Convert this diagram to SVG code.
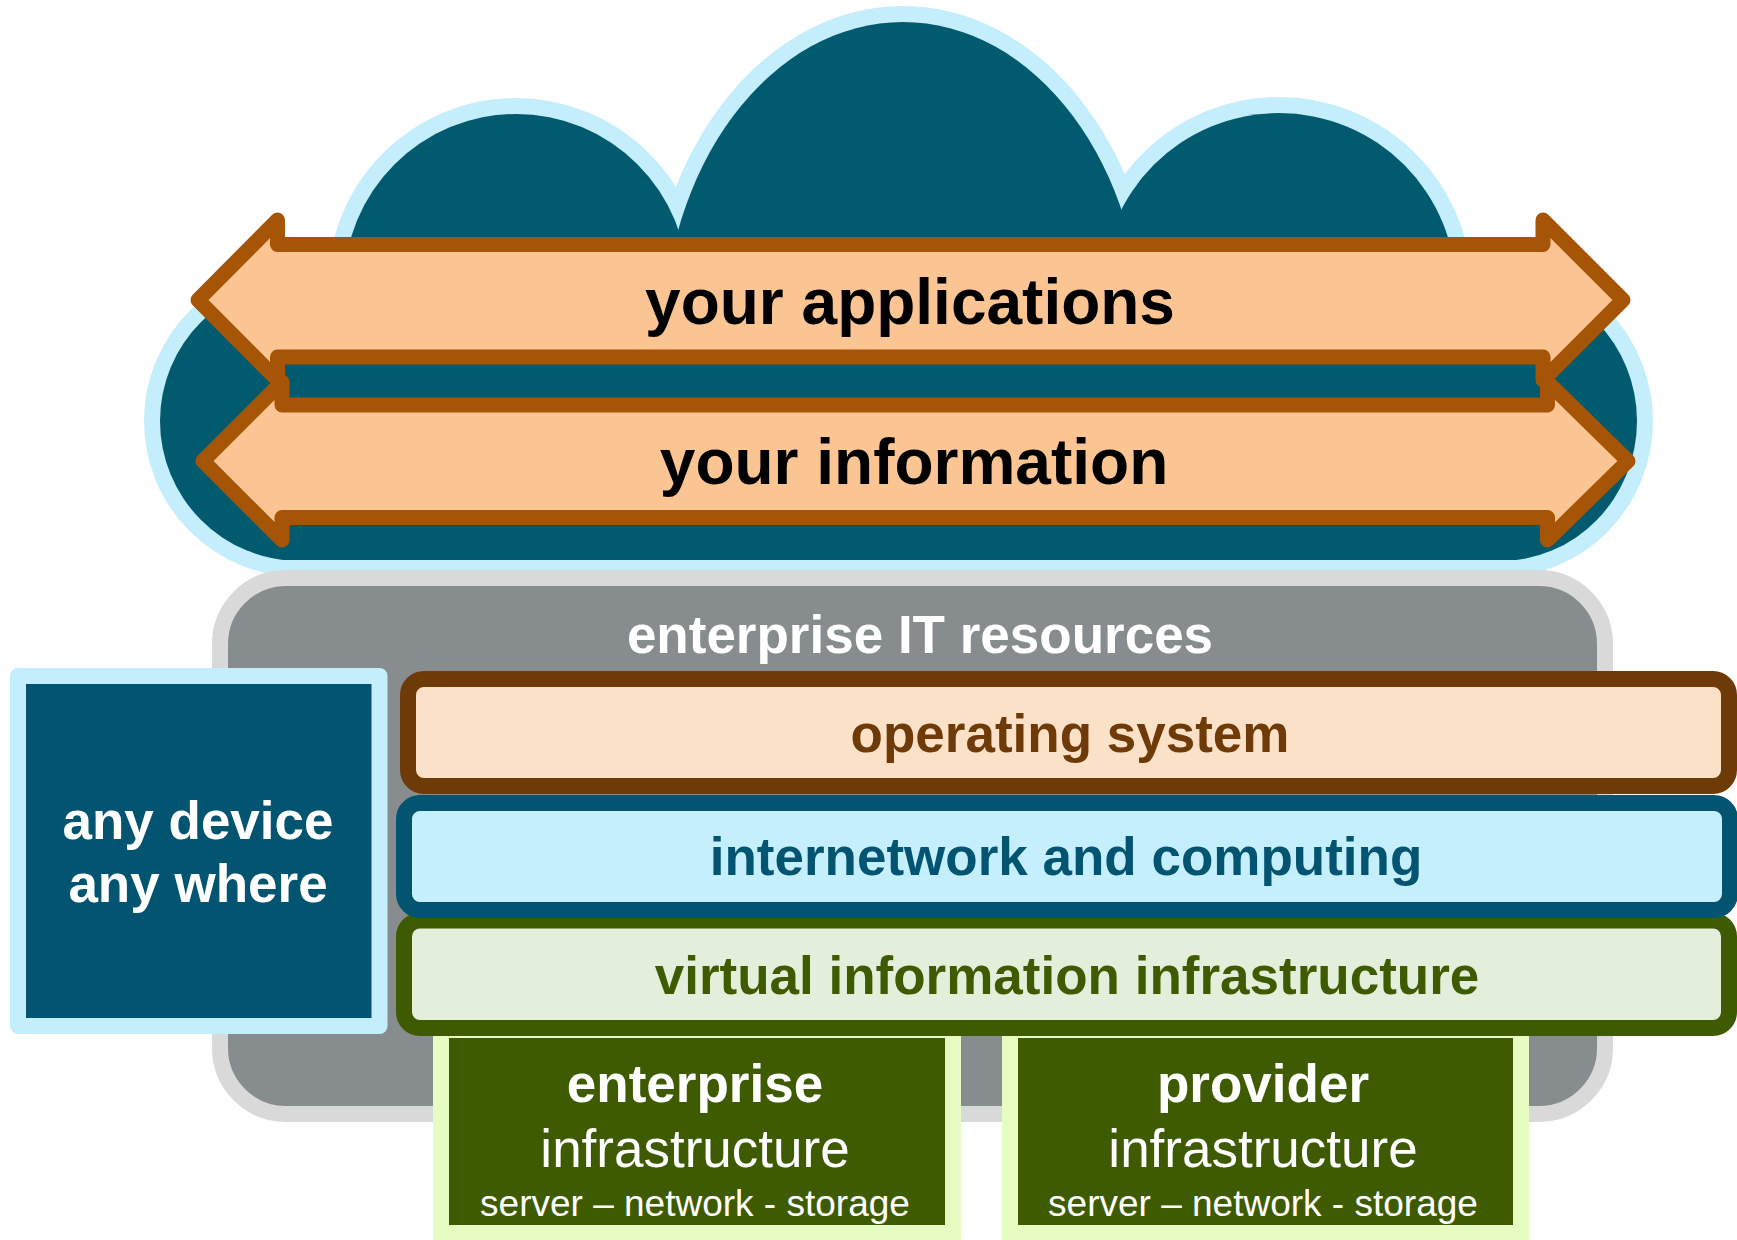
<svg xmlns="http://www.w3.org/2000/svg" width="1737" height="1240" viewBox="0 0 1737 1240">
<defs>
  <clipPath id="clipEdge"><rect x="0" y="0" width="1737" height="576"/></clipPath>
  <clipPath id="clipFill"><rect x="0" y="0" width="1737" height="560"/></clipPath>
</defs>
<style>
  .cloudEdge { fill: #C5EEFC; stroke: #C5EEFC; stroke-width: 32; }
  .cloudFill { fill: #025A6F; }
  .arrow { fill: #FAC593; stroke: #A65507; stroke-width: 15; stroke-linejoin: round; }
  .arrowText { font-family: "Liberation Sans", Arial, sans-serif; font-weight: bold; font-size: 64px; fill: #000; text-anchor: middle; }
  .bold53 { font-family: "Liberation Sans", Arial, sans-serif; font-weight: bold; font-size: 53px; text-anchor: middle; }
  .reg53 { font-family: "Liberation Sans", Arial, sans-serif; font-size: 53px; text-anchor: middle; fill: #fff; }
  .reg37 { font-family: "Liberation Sans", Arial, sans-serif; font-size: 37px; text-anchor: middle; fill: #fff; }
  .infra { fill: #3F5B02; stroke: #E6FCC0; stroke-width: 16; }
</style>

<g id="cloud">
  <g class="cloudEdge" clip-path="url(#clipEdge)">
    <ellipse cx="300" cy="421" rx="140" ry="140"/>
    <ellipse cx="1500" cy="421" rx="137" ry="140"/>
    <circle cx="516" cy="286" r="172"/>
    <ellipse cx="903" cy="342" rx="240" ry="320"/>
    <circle cx="1279" cy="290" r="177"/>
    <rect x="298" y="300" width="1202" height="260"/>
  </g>
  <g class="cloudFill" clip-path="url(#clipFill)">
    <ellipse cx="300" cy="421" rx="140" ry="140"/>
    <ellipse cx="1500" cy="421" rx="137" ry="140"/>
    <circle cx="516" cy="286" r="172"/>
    <ellipse cx="903" cy="342" rx="240" ry="320"/>
    <circle cx="1279" cy="290" r="177"/>
    <rect x="298" y="300" width="1202" height="260"/>
  </g>
</g>

<g id="applications">
  <polygon class="arrow" points="277.5,244.5 1543,244.5 1543,220 1623,300 1543,380 1543,357 277.5,357 277.5,380 198,300 277.5,220"/>
  <text class="arrowText" x="910" y="324">your applications</text>
</g>

<g id="information">
  <polygon class="arrow" points="282,405 1547.5,405 1547.5,382 1628,461 1547.5,540 1547.5,517.5 282,517.5 282,540 203,461 282,382"/>
  <text class="arrowText" x="914" y="484">your information</text>
</g>

<g id="enterprise-it-resources">
  <rect x="220" y="578" width="1385" height="536" rx="66" ry="66" fill="#878D8E" stroke="#D9D9D9" stroke-width="16"/>
  <text class="bold53" x="920" y="653" fill="#FFFFFF">enterprise IT resources</text>
</g>

<g id="any-device">
  <rect x="18" y="676" width="361.5" height="350" fill="#035470" stroke="#C5EEFC" stroke-width="16" stroke-linejoin="round"/>
  <text class="bold53" x="198" y="839" fill="#FFFFFF">any device</text>
  <text class="bold53" x="198" y="902" fill="#FFFFFF">any where</text>
</g>

<g id="enterprise-infrastructure">
  <rect class="infra" x="441" y="1030" width="512" height="203"/>
  <text class="bold53" x="695" y="1102" fill="#FFFFFF">enterprise</text>
  <text class="reg53" x="695" y="1167">infrastructure</text>
  <text class="reg37" x="695" y="1216">server – network - storage</text>
</g>

<g id="provider-infrastructure">
  <rect class="infra" x="1010" y="1030" width="511" height="203"/>
  <text class="bold53" x="1263" y="1102" fill="#FFFFFF">provider</text>
  <text class="reg53" x="1263" y="1167">infrastructure</text>
  <text class="reg37" x="1263" y="1216">server – network - storage</text>
</g>

<g id="virtual-information-infrastructure">
  <rect x="404" y="920.5" width="1325" height="107.5" rx="16" ry="16" fill="#E3EFDA" stroke="#3F5B02" stroke-width="16"/>
  <text class="bold53" x="1067" y="994" fill="#3F5B02">virtual information infrastructure</text>
</g>

<g id="internetwork-and-computing">
  <rect x="404" y="803" width="1326" height="107" rx="16" ry="16" fill="#C6EFFD" stroke="#035470" stroke-width="16"/>
  <text class="bold53" x="1066" y="875" fill="#035470">internetwork and computing</text>
</g>

<g id="operating-system">
  <rect x="408" y="679" width="1321" height="107" rx="16" ry="16" fill="#FCE1C9" stroke="#6E3A07" stroke-width="16"/>
  <text class="bold53" x="1070" y="752" fill="#6E3A07">operating system</text>
</g>

<g id="connectors"></g>
</svg>
